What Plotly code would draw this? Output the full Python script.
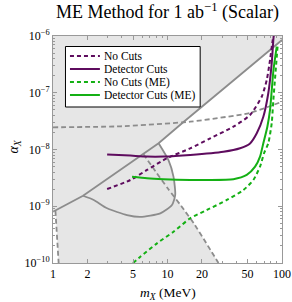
import plotly.graph_objects as go

# ---- data ----
# solid gray boundary (diagonal)
diag_m = [1.0, 1.83, 8.36, 13.8, 43.0, 100.0]
diag_a = [8.0e-10, 1.53e-9, 1.29e-8, 3.05e-8, 2.05e-7, 8.5e-7]

# solid gray loop (lower boundary from kink to apex)
loop_m = [1.83, 2.27, 2.97, 4.43, 5.79, 8.65, 10.94, 11.68, 11.29, 10.2, 8.36]
loop_a = [1.53e-9, 1.29e-9, 9.2e-10, 7.0e-10, 6.5e-10, 7.5e-10, 1.05e-9, 1.58e-9, 3.3e-9, 6.5e-9, 1.29e-8]

# gray dashed, nearly horizontal
hd_m = [1.0, 3.87, 15.8, 52.3, 100.0]
hd_a = [2.46e-8, 2.56e-8, 3.09e-8, 4.4e-8, 6.95e-8]

# gray dashed, left (near 1 MeV)
ld_m = [1.05, 1.12]
ld_a = [8.3e-10, 1.0e-10]

# gray dashed, right
rd_m = [6.15, 7.82, 10.15, 13.18, 17.11, 21.76, 27.86]
rd_a = [8.3e-9, 4.18e-9, 2.01e-9, 1.01e-9, 4.87e-10, 2.25e-10, 1.0e-10]

# No Cuts (purple dashed)
nc_m = [2.97, 4.74, 6.62, 9.89, 15.8, 23.6, 37.6, 52.6, 66.5, 73.6, 78.6, 83.0, 84.6]
nc_a = [2.01e-9, 2.9e-9, 4.36e-9, 7.0e-9, 1.05e-8, 1.57e-8, 2.52e-8, 4.06e-8, 8.5e-8, 1.68e-7, 3.78e-7, 8.5e-7, 1.0e-6]

# Detector Cuts (purple solid)
dc_m = [2.97, 4.74, 6.62, 9.24, 15.8, 30.8, 43.0, 52.6, 60.2, 68.7, 75.9, 81.3, 84.0, 84.6]
dc_a = [8.2e-9, 7.8e-9, 7.5e-9, 7.5e-9, 8.0e-9, 9.1e-9, 1.05e-8, 1.28e-8, 1.93e-8, 3.78e-8, 9.8e-8, 3.3e-7, 8.5e-7, 1.0e-6]

# No Cuts (ME) (green dashed)
ncme_m = [5.0, 5.79, 8.09, 11.29, 15.8, 22.1, 33.0, 46.0, 56.2, 64.3, 69.7, 75.9, 81.3, 84.0, 91.7]
ncme_a = [1.0e-10, 1.29e-10, 2.22e-10, 3.56e-10, 6.14e-10, 8.6e-10, 1.29e-9, 1.93e-9, 2.9e-9, 4.98e-9, 8.6e-9, 1.29e-8, 2.9e-8, 7.4e-8, 6.9e-7]

# Detector Cuts (ME) (green solid)
dcme_m = [4.9, 6.62, 9.24, 15.8, 22.1, 37.6, 49.2, 58.2, 64.3, 68.7, 74.5, 78.6, 84.2, 89.9]
dcme_a = [3.3e-9, 3.1e-9, 2.99e-9, 2.9e-9, 2.9e-9, 2.99e-9, 3.56e-9, 4.98e-9, 7.5e-9, 1.29e-8, 2.52e-8, 4.97e-8, 2.5e-7, 6.5e-7]

x_ticks = [1, 2, 5, 10, 20, 50, 100]
y_ticks = [1e-10, 1e-9, 1e-8, 1e-7, 1e-6]
y_ticktext = ["10<sup>−10</sup>", "10<sup>−9</sup>", "10<sup>−8</sup>", "10<sup>−7</sup>", "10<sup>−6</sup>"]
A_TOP = 1e-6

legend_names = ["No Cuts", "Detector Cuts", "No Cuts (ME)", "Detector Cuts (ME)"]

FILL = "#e6e6e6"
GRAY = "#8c8c8c"
PURPLE = "#5e0c5e"
GREEN = "#14b014"
FONT = "Liberation Serif"
DASH = "4px,3px"

fig = go.Figure()

# ---- shaded regions ----
fig.add_trace(go.Scatter(x=diag_m + [diag_m[-1], diag_m[0]], y=diag_a + [A_TOP, A_TOP],
                         fill="toself", fillcolor=FILL, line=dict(width=0), mode="lines",
                         showlegend=False, hoverinfo="skip"))
low_x = ld_m + rd_m[::-1] + [diag_m[1], ld_m[0]]
low_y = ld_a + rd_a[::-1] + [diag_a[1], ld_a[0]]
fig.add_trace(go.Scatter(x=low_x, y=low_y, fill="toself", fillcolor=FILL, line=dict(width=0),
                         mode="lines", showlegend=False, hoverinfo="skip"))
fig.add_trace(go.Scatter(x=loop_m + [loop_m[0]], y=loop_a + [loop_a[0]], fill="toself",
                         fillcolor=FILL, line=dict(width=0), mode="lines",
                         showlegend=False, hoverinfo="skip"))

# ---- gray boundary lines ----
gl = dict(color=GRAY, width=1.8)
fig.add_trace(go.Scatter(x=diag_m, y=diag_a, mode="lines", line=gl, showlegend=False, hoverinfo="skip"))
fig.add_trace(go.Scatter(x=loop_m, y=loop_a, mode="lines", line=dict(gl, shape="spline", smoothing=0.6),
                         showlegend=False, hoverinfo="skip"))
gd = dict(color=GRAY, width=1.8, dash="5px,3px")
for xm, ya in [(hd_m, hd_a), (ld_m, ld_a), (rd_m, rd_a)]:
    fig.add_trace(go.Scatter(x=xm, y=ya, mode="lines", line=dict(gd, shape="spline", smoothing=0.5),
                             showlegend=False, hoverinfo="skip"))

# ---- sensitivity curves ----
curves = [
    (nc_m, nc_a, PURPLE, DASH),
    (dc_m, dc_a, PURPLE, "solid"),
    (ncme_m, ncme_a, GREEN, DASH),
    (dcme_m, dcme_a, GREEN, "solid"),
]
for (xm, ya, col, dash), name in zip(curves, legend_names):
    fig.add_trace(go.Scatter(x=xm, y=ya, mode="lines", name=name, showlegend=False,
                             line=dict(color=col, width=2, dash=dash, shape="spline", smoothing=0.6)))

# ---- legend (drawn as a framed box) ----
P0, PW, PT, PH = 52.5, 229.5, 36.0, 227.0   # plot area in pixels
def px(x):
    return (x - P0) / PW
def py(y):
    return 1 - (y - PT) / PH

shapes = [dict(type="rect", xref="paper", yref="paper", x0=px(65), x1=px(200), y0=py(107), y1=py(46.5),
               line=dict(color="black", width=1), fillcolor="white", layer="above")]
annotations = []
row_y = [56, 69, 82, 95]
for (xm, ya, col, dash), name, ry in zip(curves, legend_names, row_y):
    shapes.append(dict(type="line", xref="paper", yref="paper", x0=px(69.5), x1=px(99.5),
                       y0=py(ry), y1=py(ry), line=dict(color=col, width=2, dash=dash), layer="above"))
    annotations.append(dict(text=name, xref="paper", yref="paper", x=px(101.5), y=py(ry),
                            xanchor="left", yanchor="middle", showarrow=False,
                            font=dict(family=FONT, size=11.5, color="black")))

# axis titles
annotations.append(dict(text="<i>m</i><sub><i>X</i></sub> (MeV)", xref="paper", yref="paper",
                        x=px(168), y=py(293), xanchor="center", yanchor="middle", showarrow=False,
                        font=dict(family=FONT, size=13.5, color="black")))
annotations.append(dict(text="<i>α</i><sub><i>X</i></sub>", xref="paper", yref="paper",
                        x=px(13), y=py(147), xanchor="center", yanchor="middle", showarrow=False,
                        textangle=-90, font=dict(family=FONT, size=14, color="black")))

axis_common = dict(type="log", showgrid=False, zeroline=False, showline=True, linecolor="#999999",
                   linewidth=1, mirror="allticks", ticks="inside", ticklen=4, tickcolor="#999999",
                   automargin=False, tickfont=dict(family=FONT, size=12, color="black"))

fig.update_layout(
    width=292, height=302,
    margin=dict(l=52.5, r=10, t=36, b=39, autoexpand=False),
    paper_bgcolor="white", plot_bgcolor="white",
    title=dict(text="ME Method for 1 ab<sup>−1</sup> (Scalar)", x=0.5, xref="paper",
               y=0.96, yref="container", yanchor="middle",
               font=dict(family=FONT, size=18, color="black")),
    xaxis=dict(axis_common, range=[0, 2], tickmode="array", tickvals=x_ticks,
               ticktext=[str(v) for v in x_ticks],
               minor=dict(ticks="inside", ticklen=2, tickcolor="#999999",
                          tickvals=[3, 4, 6, 7, 8, 9, 30, 40, 60, 70, 80, 90])),
    yaxis=dict(axis_common, range=[-10, -6], tickmode="array", tickvals=y_ticks, ticktext=y_ticktext,
               minor=dict(ticks="inside", ticklen=2, tickcolor="#999999",
                          tickvals=[k * 10.0 ** e for e in range(-10, -6) for k in range(2, 10)])),
    shapes=shapes,
    annotations=annotations,
    showlegend=False,
)

fig.write_html("out.html", config={"displayModeBar": False},
               post_script="document.body.style.margin='0';document.body.style.padding='0';")
